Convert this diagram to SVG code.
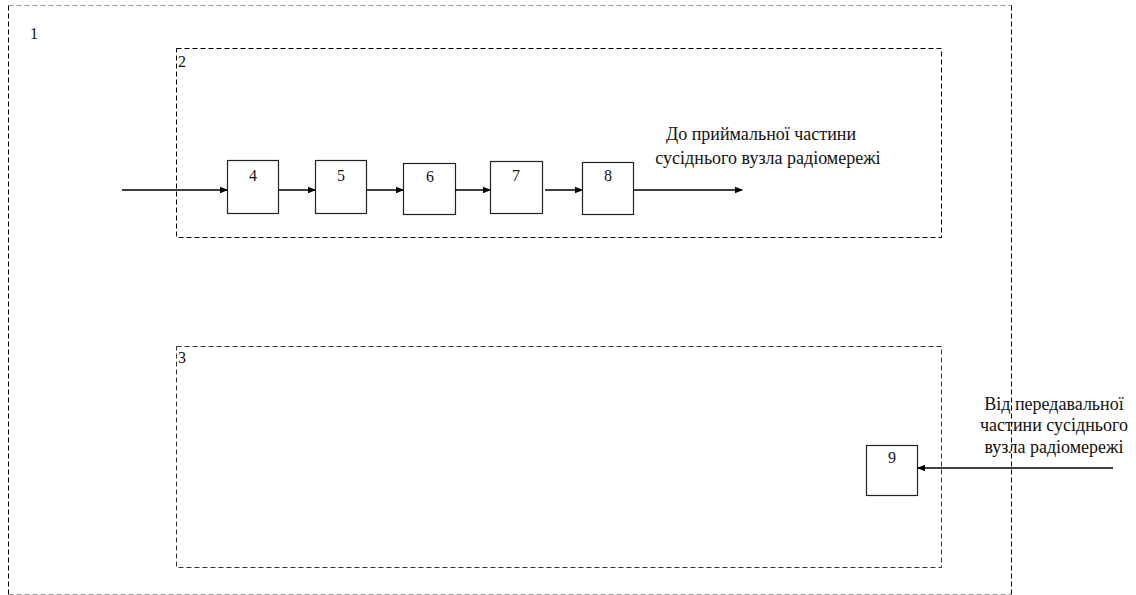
<svg xmlns="http://www.w3.org/2000/svg" width="1136" height="595" viewBox="0 0 1136 595">
  <style>
    .frame { fill: none; stroke: #000; stroke-width: 1; stroke-dasharray: 5 3; }
    .block { fill: #fff; stroke: #222; stroke-width: 1.2; }
    .wire { fill: none; stroke: #000; stroke-width: 1.5; }
    text { font-family: 'Liberation Serif', 'DejaVu Serif', 'Times New Roman', serif; fill: #111; }
    .num { font-size: 16px; }
    .lbl { font-size: 18px; text-anchor: middle; }
  </style>
  <defs>
    <marker id="arrow" markerWidth="8" markerHeight="8" refX="7" refY="4" orient="auto" markerUnits="userSpaceOnUse">
      <path d="M0,0.8 L8,4 L0,7.2 Z" fill="#000"/>
    </marker>
  </defs>

  <rect width="1136" height="595" fill="#fff"/>

  <!-- outer enclosure (1) -->
  <g id="frame1">
    <path class="frame" d="M8.5,594.5 V5.5"/>
    <path class="frame" d="M8.5,5.5 H1011.5" style="stroke:#999"/>
    <path class="frame" d="M1011.5,5.5 V594.5"/>
    <path class="frame" d="M8.5,594.5 H1011.5" style="stroke:#999"/>
    <text class="num" x="30" y="39">1</text>
  </g>

  <!-- transmitting part (2) -->
  <g id="frame2">
    <rect class="frame" x="176.5" y="48.5" width="765" height="189"/>
    <text class="num" x="178" y="67">2</text>
  </g>

  <!-- receiving part (3) -->
  <g id="frame3">
    <rect class="frame" x="176.5" y="346.5" width="765" height="221" style="stroke:#333"/>
    <text class="num" x="178" y="363">3</text>
  </g>

  <g id="node4">
    <rect class="block" x="227.5" y="160.5" width="51" height="53"/>
    <text class="num" x="253" y="181" text-anchor="middle">4</text>
  </g>
  <g id="node5">
    <rect class="block" x="315.5" y="160.5" width="51" height="53"/>
    <text class="num" x="341" y="181" text-anchor="middle">5</text>
  </g>
  <g id="node6">
    <rect class="block" x="403.5" y="163.5" width="52" height="51"/>
    <text class="num" x="430" y="182" text-anchor="middle">6</text>
  </g>
  <g id="node7">
    <rect class="block" x="490.5" y="161.5" width="52" height="52"/>
    <text class="num" x="516" y="181" text-anchor="middle">7</text>
  </g>
  <g id="node8">
    <rect class="block" x="582.5" y="162.5" width="51" height="52"/>
    <text class="num" x="608" y="181" text-anchor="middle">8</text>
  </g>
  <g id="node9">
    <rect class="block" x="866.5" y="445.5" width="51" height="50"/>
    <text class="num" x="892" y="463" text-anchor="middle">9</text>
  </g>

  <g id="labels">
    <text class="lbl" x="761" y="140">До приймальної частини</text>
    <text class="lbl" x="768" y="164">сусіднього вузла радіомережі</text>
    <text class="lbl" x="1054" y="410">Від передавальної</text>
    <text class="lbl" x="1054" y="431">частини сусіднього</text>
    <text class="lbl" x="1054" y="453">вузла радіомережі</text>
  </g>

  <g id="connectors">
    <line class="wire" x1="122" y1="190" x2="227" y2="190" marker-end="url(#arrow)"/>
    <line class="wire" x1="279" y1="190" x2="315" y2="190" marker-end="url(#arrow)"/>
    <line class="wire" x1="367" y1="190" x2="403" y2="190" marker-end="url(#arrow)"/>
    <line class="wire" x1="455" y1="190" x2="490" y2="190" marker-end="url(#arrow)"/>
    <line class="wire" x1="545" y1="190" x2="582" y2="190" marker-end="url(#arrow)"/>
    <line class="wire" x1="634" y1="190" x2="742" y2="190" marker-end="url(#arrow)"/>
    <line class="wire" x1="1113" y1="468" x2="918" y2="468" marker-end="url(#arrow)"/>
  </g>
</svg>
